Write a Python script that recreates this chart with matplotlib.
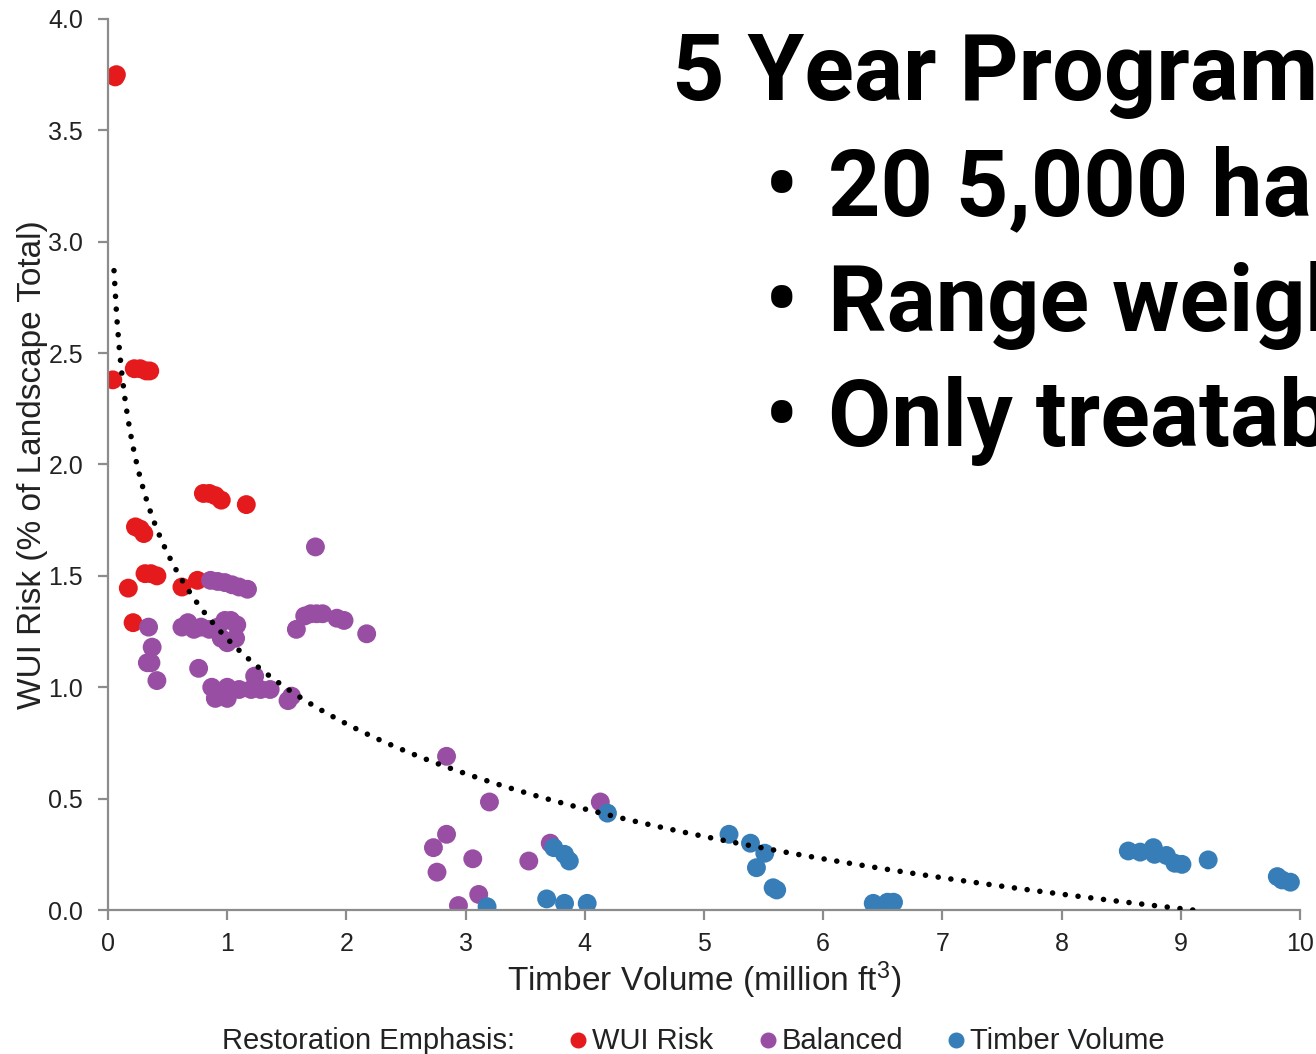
import numpy as np
import matplotlib
matplotlib.use("Agg")
import matplotlib.pyplot as plt
from matplotlib.lines import Line2D

plt.rcParams["font.family"] = ["Liberation Sans", "DejaVu Sans"]
plt.rcParams["mathtext.fontset"] = "custom"
plt.rcParams["mathtext.rm"] = "Liberation Sans"
plt.rcParams["mathtext.default"] = "regular"

# ---- data: timber volume (million ft3) vs WUI risk (% of landscape) ----
wui_x = [0.07, 0.06, 0.04, 0.22, 0.27, 0.32, 0.35, 0.80, 0.85, 0.90, 0.95, 1.16,
         0.23, 0.27, 0.30, 0.31, 0.36, 0.41, 0.17, 0.62, 0.75, 0.21]
wui_y = [3.75, 3.74, 2.38, 2.43, 2.43, 2.42, 2.42, 1.87, 1.87, 1.86, 1.84, 1.82,
         1.72, 1.71, 1.69, 1.51, 1.51, 1.50, 1.445, 1.45, 1.48, 1.29]

bal_x = [0.86, 0.92, 0.98, 1.04, 1.10, 1.17, 0.34, 0.37, 0.33, 0.36, 0.41,
         0.62, 0.67, 0.72, 0.78, 0.85, 0.92, 0.98, 1.03, 1.08, 0.95, 1.00, 1.07,
         0.76, 0.87, 0.90, 1.00, 1.00, 1.10, 1.20, 1.28, 1.36, 1.23, 1.51, 1.54,
         1.74, 1.58, 1.65, 1.70, 1.75, 1.80, 1.92, 1.98, 2.17,
         2.84, 3.20, 4.13, 2.73, 2.84, 2.76, 3.06, 3.11, 2.94, 3.53, 3.71]
bal_y = [1.48, 1.475, 1.47, 1.46, 1.45, 1.44, 1.27, 1.18, 1.11, 1.11, 1.03,
         1.27, 1.29, 1.26, 1.27, 1.26, 1.27, 1.30, 1.30, 1.28, 1.22, 1.20, 1.22,
         1.085, 1.00, 0.95, 0.95, 1.00, 0.99, 0.99, 0.99, 0.99, 1.05, 0.94, 0.96,
         1.63, 1.26, 1.32, 1.33, 1.33, 1.33, 1.31, 1.30, 1.24,
         0.69, 0.485, 0.485, 0.28, 0.34, 0.17, 0.23, 0.07, 0.02, 0.22, 0.30]

tim_x = [3.18, 3.68, 3.83, 4.02, 3.74, 3.83, 3.87, 4.19,
         5.21, 5.39, 5.51, 5.44, 5.58, 5.61, 6.42, 6.54, 6.59,
         8.56, 8.66, 8.77, 8.78, 8.88, 8.95, 9.01, 9.23, 9.81, 9.85, 9.92]
tim_y = [0.015, 0.05, 0.03, 0.03, 0.28, 0.25, 0.22, 0.435,
         0.34, 0.30, 0.255, 0.19, 0.10, 0.09, 0.03, 0.035, 0.035,
         0.265, 0.26, 0.28, 0.25, 0.245, 0.21, 0.205, 0.225, 0.15, 0.135, 0.125]

# logarithmic trendline y = a - b*ln(x), shown over this x span
trend_a = 1.218
trend_b = 0.5515
trend_span = (0.05, 9.15)

series = [("WUI Risk", wui_x, wui_y, "#E41A1C"),
          ("Balanced", bal_x, bal_y, "#984EA3"),
          ("Timber Volume", tim_x, tim_y, "#377EB8")]

x_ticks = list(range(0, 11))
y_ticks = [0.0, 0.5, 1.0, 1.5, 2.0, 2.5, 3.0, 3.5, 4.0]

fig = plt.figure(figsize=(13.16, 10.54), dpi=100)
ax = fig.add_axes([0.0821, 0.1366, 0.9057, 0.8454])

for name, xs, ys, col in series:
    ax.scatter(xs, ys, s=185, color=col, edgecolors="none", zorder=2)

tx = np.linspace(trend_span[0], trend_span[1], 400)
ax.plot(tx, trend_a - trend_b * np.log(tx), color="black", lw=4.0,
        linestyle=(0, (0.01, 2.3)), dash_capstyle="round", zorder=3)

ax.set_xlim(0, 10)
ax.set_ylim(0, 4.0)
ax.set_xticks(x_ticks)
ax.set_xticklabels([str(v) for v in x_ticks])
ax.set_yticks(y_ticks)
ax.set_yticklabels([f"{v:.1f}" for v in y_ticks])
for side in ("top", "right"):
    ax.spines[side].set_visible(False)
for side in ("left", "bottom"):
    ax.spines[side].set_color("#8c8c8c")
    ax.spines[side].set_linewidth(1.6)
ax.tick_params(axis="both", direction="out", length=7, width=1.6,
               color="#8c8c8c", labelsize=18, labelcolor="#222222")
ax.tick_params(axis="y", pad=11)
ax.tick_params(axis="x", pad=9)
ax.set_xlabel("Timber Volume (million ft$^3$)", fontsize=24, color="#222222", labelpad=2)
ax.set_ylabel("WUI Risk (% of Landscape Total)", fontsize=24, color="#222222", labelpad=0)

# legend row under the axis title
legend_y = 0.0045
fig.text(0.169, legend_y, "Restoration Emphasis:", fontsize=21, color="#222222",
         ha="left", va="baseline")
legend_x = [0.4395, 0.5836, 0.7265]
for (name, _, _, col), lx in zip(series, legend_x):
    fig.add_artist(Line2D([lx], [legend_y + 0.0085], transform=fig.transFigure,
                          marker="o", ls="", color=col, markersize=10.5))
    fig.text(lx + 0.0105, legend_y, name, fontsize=21, color="#222222",
             ha="left", va="baseline")

# slide text overlaid on the chart
big = dict(family=["Roboto", "DejaVu Sans"], fontweight="bold",
           fontsize=66, color="black", va="baseline", ha="left")
fig.text(0.5106, 0.905, "5 Year Program", **big)
bullets = ["20 5,000 ha", "Range weights", "Only treatable"]
for i, line in enumerate(bullets):
    yb = 0.905 - (i + 1) * 0.1095
    fig.text(0.581, yb, "•", **big)
    fig.text(0.629, yb, line, **big)

fig.savefig("out.png", dpi=100)
